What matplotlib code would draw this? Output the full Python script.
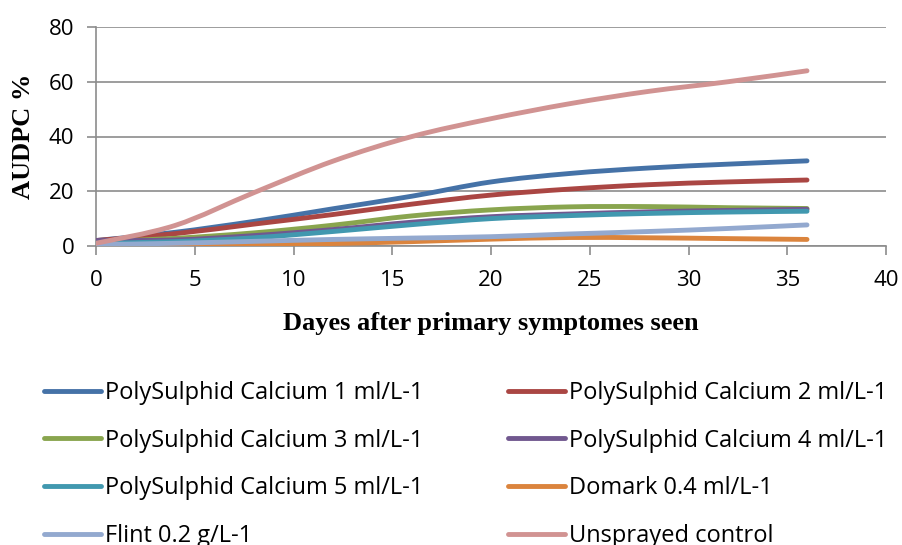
import matplotlib
matplotlib.use("Agg")
import matplotlib.pyplot as plt
from matplotlib.path import Path
from matplotlib.patches import PathPatch
from matplotlib.lines import Line2D

plt.rcParams['font.family'] = ['Open Sans', 'DejaVu Sans']

days = [0, 4, 8, 12, 16, 20, 24, 28, 32, 36]

ps1 = [2.0, 5.0, 9.0, 13.6, 18.2, 23.4, 26.5, 28.5, 29.9, 31.1]
ps2 = [2.0, 4.5, 8.0, 11.5, 15.3, 18.6, 20.8, 22.4, 23.4, 24.1]
ps3 = [1.5, 2.8, 4.8, 7.6, 11.0, 13.2, 14.3, 14.4, 14.0, 13.7]
ps4 = [2.0, 2.2, 3.8, 6.0, 8.7, 10.7, 11.7, 12.5, 13.0, 13.4]
ps5 = [1.0, 1.6, 3.0, 5.3, 7.8, 10.0, 11.1, 11.9, 12.4, 12.7]
domark = [0.0, 0.1, 0.4, 0.9, 1.6, 2.5, 3.1, 3.0, 2.7, 2.4]
flint = [0.5, 1.0, 1.7, 2.4, 2.9, 3.4, 4.4, 5.3, 6.4, 7.7]
control = [1.0, 7.5, 19.5, 31.0, 40.0, 46.5, 52.0, 56.5, 60.0, 64.0]

names = ['PolySulphid Calcium 1 ml/L-1', 'PolySulphid Calcium 2 ml/L-1',
         'PolySulphid Calcium 3 ml/L-1', 'PolySulphid Calcium 4 ml/L-1',
         'PolySulphid Calcium 5 ml/L-1', 'Domark 0.4 ml/L-1',
         'Flint 0.2 g/L-1', 'Unsprayed control']
series = [ps1, ps2, ps3, ps4, ps5, domark, flint, control]
colors = ['#4572A7', '#AA4643', '#89A54E', '#71588F',
          '#4198AF', '#DB843D', '#93A9CF', '#D19392']


def smooth_path(x, y):
    # excel style smoothed line: cubic bezier through each point
    n = len(x)
    verts = [(x[0], y[0])]
    codes = [Path.MOVETO]
    for i in range(n - 1):
        i0 = max(i - 1, 0)
        i2 = min(i + 2, n - 1)
        c1 = (x[i] + (x[i + 1] - x[i0]) / 6.0, y[i] + (y[i + 1] - y[i0]) / 6.0)
        c2 = (x[i + 1] - (x[i2] - x[i]) / 6.0, y[i + 1] - (y[i2] - y[i]) / 6.0)
        verts += [c1, c2, (x[i + 1], y[i + 1])]
        codes += [Path.CURVE4] * 3
    return Path(verts, codes)


fig = plt.figure(figsize=(9.02, 5.45), dpi=100)
ax = fig.add_axes([96 / 902, 1 - 246 / 545, 790 / 902, 219 / 545])

lw = 3.5
for vals, col in zip(series, colors):
    patch = PathPatch(smooth_path(days, vals), fill=False, edgecolor=col,
                      linewidth=lw, capstyle='round', joinstyle='round', zorder=3)
    ax.add_patch(patch)

ax.set_xlim(0, 40)
ax.set_ylim(0, 80)
ax.set_xticks(range(0, 41, 5))
ax.set_yticks(range(0, 81, 20))
ax.yaxis.grid(True, color='#8c8c8c', linewidth=1.2)
ax.set_axisbelow(True)
for s in ['top', 'right']:
    ax.spines[s].set_visible(False)
for s in ['left', 'bottom']:
    ax.spines[s].set_color('#8c8c8c')
    ax.spines[s].set_linewidth(1.2)
ax.tick_params(colors='#8c8c8c', labelcolor='black', labelsize=16, length=6.5, width=1.2)
ax.tick_params(axis='x', pad=11)
ax.tick_params(axis='y', pad=9)

ax.set_ylabel('AUDPC %', family='Liberation Serif', fontweight='bold', fontsize=19)
ax.yaxis.set_label_coords((35 - 96) / 790, 0.5)
ax.set_xlabel('Dayes after primary symptomes seen', family='Liberation Serif',
              fontweight='bold', fontsize=19)
ax.xaxis.set_label_coords(0.5, (246 - 312) / 219)

handles = [Line2D([], [], color=c, linewidth=lw, solid_capstyle='round') for c in colors]
order = [0, 2, 4, 6, 1, 3, 5, 7]
fig.legend([handles[i] for i in order], [names[i] for i in order],
           loc='upper left', bbox_to_anchor=(44 / 902, 1 - 381 / 545), ncol=2,
           frameon=False, fontsize=17, handlelength=2.4, handletextpad=0.17,
           columnspacing=3.6, labelspacing=1.0, borderpad=0, borderaxespad=0)

fig.savefig('out.png', dpi=100)
